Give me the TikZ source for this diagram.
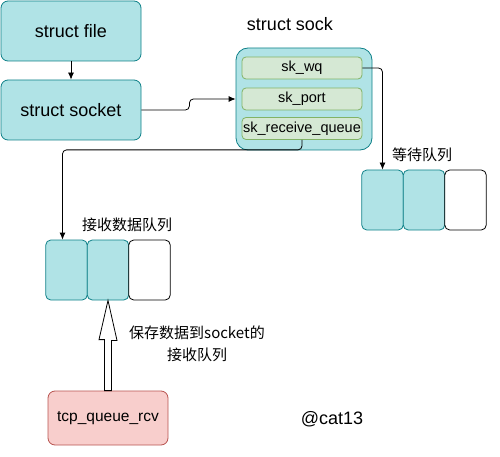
\documentclass[tikz,border=0pt]{standalone}
\usepackage{fontspec}
\usepackage{tikz}
\usetikzlibrary{arrows.meta}
\setmainfont{Liberation Sans}
\newfontfamily\cjk{Noto Sans CJK SC}

\definecolor{tealfill}{HTML}{B0E3E6}
\definecolor{tealline}{HTML}{0E8088}
\definecolor{greenfill}{HTML}{D5E8D4}
\definecolor{greenline}{HTML}{82B366}
\definecolor{redfill}{HTML}{F8CECC}
\definecolor{redline}{HTML}{B85450}

\tikzset{
	bigbox/.style={shape=rectangle,rounded corners=7pt,draw=tealline,fill=tealfill,line width=0.8pt,
		minimum width=140pt,minimum height=60pt,inner sep=0pt,font=\fontsize{18}{20}\selectfont},
	field/.style={shape=rectangle,rounded corners=4pt,draw=greenline,fill=greenfill,line width=0.8pt,
		minimum width=120pt,minimum height=22pt,inner sep=0pt,font=\fontsize{14.5}{16}\selectfont},
	cell/.style={shape=rectangle,rounded corners=5pt,draw=tealline,fill=tealfill,line width=0.8pt,
		minimum width=41.5pt,minimum height=60pt,inner sep=0pt},
	emptycell/.style={cell,draw=black,fill=white},
	link/.style={draw=black,line width=0.8pt,rounded corners=4pt,-{Latex[length=7pt,width=6pt]}},
	caption/.style={font=\cjk\fontsize{15}{22}\selectfont,align=center,inner sep=0pt},
}

\begin{document}
\begin{tikzpicture}[x=1pt,y=-1pt]
	
	\useasboundingbox (0,0) rectangle (500,457);
	
	\node[bigbox] (file)   at (71, 31)  {struct file};
	\node[bigbox] (socket) at (71, 110) {struct socket};
	
	\node[font=\fontsize{18}{20}\selectfont] (socklabel) at (290, 24) {struct sock};
	\node[shape=rectangle,rounded corners=12pt,draw=tealline,fill=tealfill,line width=0.8pt,
		minimum width=136pt,minimum height=102pt] (sock) at (304, 99) {};
	\node[field] (wq)   at (302, 68)    {sk\_wq};
	\node[field] (port) at (302, 99)    {sk\_port};
	\node[field] (rq)   at (302, 128.5) {sk\_receive\_queue};
	
	\node[caption] (waitlabel) at (422, 155) {等待队列};
	\node[cell]      (w1) at (382.5, 200) {};
	\node[cell]      (w2) at (424, 200)   {};
	\node[emptycell] (w3) at (465.5, 200) {};
	
	\node[caption] (recvlabel) at (127, 225) {接收数据队列};
	\node[cell]      (r1) at (66.5, 270)  {};
	\node[cell]      (r2) at (108, 270)   {};
	\node[emptycell] (r3) at (149.5, 270) {};
	
	\node[shape=rectangle,rounded corners=7pt,draw=redline,fill=redfill,line width=0.8pt,
		minimum width=120pt,minimum height=54pt,font=\fontsize{15.5}{18}\selectfont] (tcp) at (108, 418) {tcp\_queue\_rcv};
	\node[caption] (savelabel) at (197, 344) {保存数据到socket的\\接收队列};
	\node[font=\fontsize{18}{20}\selectfont] (cat) at (332, 419) {@cat13};
	
	\draw[link] (file) -- (socket);
	\draw[link] (socket.east) -- ++(48,0) |- (sock.west);
	\draw[link] (wq.east) -| (w1.north);
	\draw[link] (rq.south) -- ++(0,10) -| ([xshift=-4pt]r1.north);
	\draw[draw=black,fill=white,line width=0.8pt] ([xshift=-3.5pt]tcp.north) -- ++(0,-51) -- ++(-5.5,0)
		-- (r2.south) -- ++(9,40) -- ++(-5.5,0) -- ([xshift=3.5pt]tcp.north) -- cycle;
	
\end{tikzpicture}
\end{document}
